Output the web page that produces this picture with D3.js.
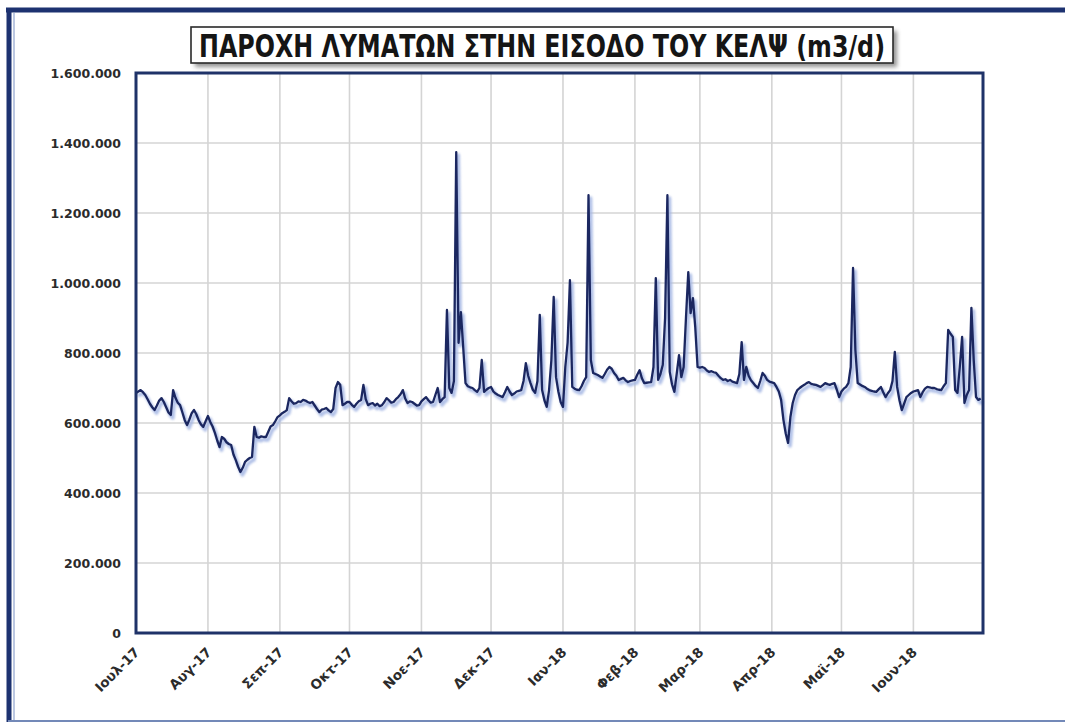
<!DOCTYPE html>
<html>
<head>
<meta charset="utf-8">
<script src="https://cdn.jsdelivr.net/npm/d3@7/dist/d3.min.js"></script>
<style>
  html, body { margin: 0; padding: 0; background: #ffffff; }
  svg { display: block; }
</style>
</head>
<body>
<svg id="chart" width="1065" height="725"></svg>
<script>
// Daily inflow at the plant entrance, thousand m3/d, 1 Jul 2017 – 30 Jun 2018
const startDate = new Date(2017, 6, 1);
const endDate = new Date(2018, 6, 1);

const jul17 = [686, 690, 694, 688, 680, 668, 655, 645, 637, 650, 664, 671, 660, 645, 630, 623, 694, 672, 658, 651, 630, 608, 594, 610, 628, 637, 625, 608, 596, 589, 605];
const aug17 = [620, 603, 590, 572, 550, 531, 560, 555, 545, 540, 537, 510, 494, 475, 460, 472, 489, 495, 500, 503, 589, 560, 558, 562, 560, 560, 575, 590, 594, 605, 617];
const sep17 = [622, 628, 632, 637, 671, 662, 655, 657, 662, 660, 666, 664, 660, 657, 660, 650, 640, 631, 638, 640, 643, 636, 631, 640, 700, 717, 709, 651, 655, 660];
const oct17 = [660, 652, 646, 655, 662, 666, 709, 668, 651, 655, 657, 650, 655, 648, 651, 660, 671, 665, 658, 660, 668, 674, 682, 694, 670, 657, 662, 660, 655, 650, 651];
const nov17 = [662, 668, 674, 665, 658, 660, 680, 700, 660, 668, 674, 923, 700, 686, 720, 1374, 829, 917, 817, 714, 705, 702, 700, 694, 689, 700, 780, 689, 695, 700];
const dec17 = [703, 690, 684, 680, 677, 674, 688, 703, 690, 680, 684, 690, 692, 694, 720, 771, 735, 714, 695, 686, 720, 909, 694, 665, 646, 694, 780, 960, 731, 690, 660];
const jan18 = [646, 760, 830, 1008, 703, 698, 695, 694, 705, 720, 731, 1251, 780, 743, 740, 737, 733, 729, 740, 752, 760, 755, 743, 735, 723, 726, 729, 722, 717, 720, 722];
const feb18 = [723, 738, 751, 728, 714, 715, 716, 717, 760, 1014, 723, 740, 766, 900, 1251, 746, 710, 689, 740, 794, 731, 760, 900, 1031, 914, 957, 874, 760];
const mar18 = [758, 760, 757, 750, 746, 748, 745, 743, 735, 728, 723, 725, 720, 723, 718, 716, 714, 740, 831, 723, 760, 735, 722, 714, 706, 700, 720, 743, 735, 723, 718];
const apr18 = [716, 714, 703, 690, 666, 609, 570, 543, 617, 657, 680, 694, 700, 705, 709, 714, 717, 712, 710, 709, 706, 703, 708, 714, 711, 709, 712, 714, 695, 674];
const may18 = [690, 698, 703, 714, 760, 1043, 809, 714, 710, 706, 703, 698, 694, 692, 690, 689, 696, 703, 688, 674, 685, 694, 720, 803, 703, 665, 637, 655, 674, 680, 686];
const jun18 = [690, 692, 694, 674, 688, 698, 703, 702, 700, 700, 697, 695, 694, 705, 714, 866, 855, 846, 694, 686, 760, 846, 657, 680, 694, 929, 780, 674, 666, 670];

const flowThousands = [].concat(jul17, aug17, sep17, oct17, nov17, dec17, jan18, feb18, mar18, apr18, may18, jun18);

const monthLabels = ["Ιουλ-17", "Αυγ-17", "Σεπ-17", "Οκτ-17", "Νοε-17", "Δεκ-17", "Ιαν-18", "Φεβ-18", "Μαρ-18", "Απρ-18", "Μαϊ-18", "Ιουν-18"];
const yTickValues = [0, 200, 400, 600, 800, 1000, 1200, 1400, 1600];
const yTickLabels = ["0", "200.000", "400.000", "600.000", "800.000", "1.000.000", "1.200.000", "1.400.000", "1.600.000"];
const titleText = "ΠΑΡΟΧΗ ΛΥΜΑΤΩΝ ΣΤΗΝ ΕΙΣΟΔΟ ΤΟΥ ΚΕΛΨ (m3/d)";

const series = flowThousands.map((v, i) => ({ date: d3.timeDay.offset(startDate, i), value: v }));

const svg = d3.select("#chart");
const plot = { left: 136, top: 73, right: 983, bottom: 633 };

const x = d3.scaleTime().domain([startDate, endDate]).range([plot.left, plot.right]);
const y = d3.scaleLinear().domain([0, 1600]).range([plot.bottom, plot.top]);
const monthTicks = d3.timeMonth.range(startDate, endDate);

const defs = svg.append("defs");
const blur = defs.append("filter").attr("id", "soft").attr("x", "-10%").attr("y", "-10%").attr("width", "130%").attr("height", "150%");
blur.append("feGaussianBlur").attr("stdDeviation", 2);
const lineBlur = defs.append("filter").attr("id", "halo").attr("x", "-5%").attr("y", "-5%").attr("width", "110%").attr("height", "110%");
lineBlur.append("feGaussianBlur").attr("stdDeviation", 1.2);

// outer chart frame
svg.append("line").attr("x1", 6).attr("x2", 1065).attr("y1", 10).attr("y2", 10)
  .attr("stroke", "#1d3270").attr("stroke-width", 5);
svg.append("line").attr("x1", 9).attr("x2", 9).attr("y1", 8).attr("y2", 722)
  .attr("stroke", "#1d3270").attr("stroke-width", 5);
svg.append("line").attr("x1", 14).attr("x2", 14).attr("y1", 13).attr("y2", 720)
  .attr("stroke", "#8fa3cf").attr("stroke-width", 1.2);
svg.append("line").attr("x1", 8).attr("x2", 1065).attr("y1", 721).attr("y2", 721)
  .attr("stroke", "#7389b8").attr("stroke-width", 2);

// title box with drop shadow
const tb = { x: 191, y: 27, w: 702, h: 36 };
svg.append("rect").attr("x", tb.x + 4).attr("y", tb.y + 4).attr("width", tb.w).attr("height", tb.h)
  .attr("fill", "#6f6f6f").attr("opacity", 0.75).attr("filter", "url(#soft)");
svg.append("rect").attr("x", tb.x).attr("y", tb.y).attr("width", tb.w).attr("height", tb.h)
  .attr("fill", "#ffffff").attr("stroke", "#2a2a2a").attr("stroke-width", 1.6);
svg.append("text")
  .attr("x", tb.x + tb.w / 2).attr("y", tb.y + tb.h / 2 + 1)
  .attr("text-anchor", "middle").attr("dominant-baseline", "central")
  .attr("textLength", 686).attr("lengthAdjust", "spacingAndGlyphs")
  .style("font-family", "'Liberation Sans Narrow', 'DejaVu Sans Condensed', 'Liberation Sans', sans-serif")
  .style("font-weight", "bold").style("font-size", "31px").attr("fill", "#151515")
  .text(titleText);

// gridlines
const grid = svg.append("g");
grid.selectAll("line.h").data(yTickValues.slice(1)).enter().append("line")
  .attr("x1", plot.left).attr("x2", plot.right)
  .attr("y1", d => y(d)).attr("y2", d => y(d))
  .attr("stroke", "#d4d4d4").attr("stroke-width", 1.6);
grid.selectAll("line.v").data(monthTicks.slice(1)).enter().append("line")
  .attr("x1", d => x(d)).attr("x2", d => x(d))
  .attr("y1", plot.top).attr("y2", plot.bottom)
  .attr("stroke", "#d4d4d4").attr("stroke-width", 1.6);

// y axis labels
const yAxis = d3.axisLeft(y).tickValues(yTickValues)
  .tickFormat((d, i) => yTickLabels[i]).tickSize(0).tickPadding(15);
const gy = svg.append("g").attr("transform", `translate(${plot.left},0)`).call(yAxis);
gy.select(".domain").remove();
gy.selectAll("text")
  .style("font-family", "'DejaVu Sans', Verdana, sans-serif")
  .style("font-weight", "bold").style("font-size", "12.5px").attr("fill", "#2b2b2b");

// x axis labels, rotated
const xAxis = d3.axisBottom(x).tickValues(monthTicks)
  .tickFormat((d, i) => monthLabels[i]).tickSize(0).tickPadding(0);
const gx = svg.append("g").attr("transform", `translate(0,${plot.bottom})`).call(xAxis);
gx.select(".domain").remove();
gx.selectAll("text")
  .attr("text-anchor", "end")
  .attr("dy", null).attr("y", 0)
  .attr("transform", "translate(4,20) rotate(-45)")
  .style("font-family", "'DejaVu Sans', Verdana, sans-serif")
  .style("font-weight", "bold").style("font-size", "13.5px").attr("fill", "#2b2b2b");

// data line with soft light-blue shadow
const line = d3.line().x(d => x(d.date)).y(d => y(d.value));
svg.append("path").datum(series).attr("d", line)
  .attr("transform", "translate(2,3)")
  .attr("fill", "none").attr("stroke", "#a3b5e3").attr("stroke-width", 3.6)
  .attr("stroke-linejoin", "round").attr("opacity", 0.85).attr("filter", "url(#halo)");
svg.append("path").datum(series).attr("d", line)
  .attr("fill", "none").attr("stroke", "#1b2760").attr("stroke-width", 2.3)
  .attr("stroke-linejoin", "round");

// plot area border
svg.append("rect").attr("x", plot.left).attr("y", plot.top)
  .attr("width", plot.right - plot.left).attr("height", plot.bottom - plot.top)
  .attr("fill", "none").attr("stroke", "#1f3268").attr("stroke-width", 3);
</script>
</body>
</html>
